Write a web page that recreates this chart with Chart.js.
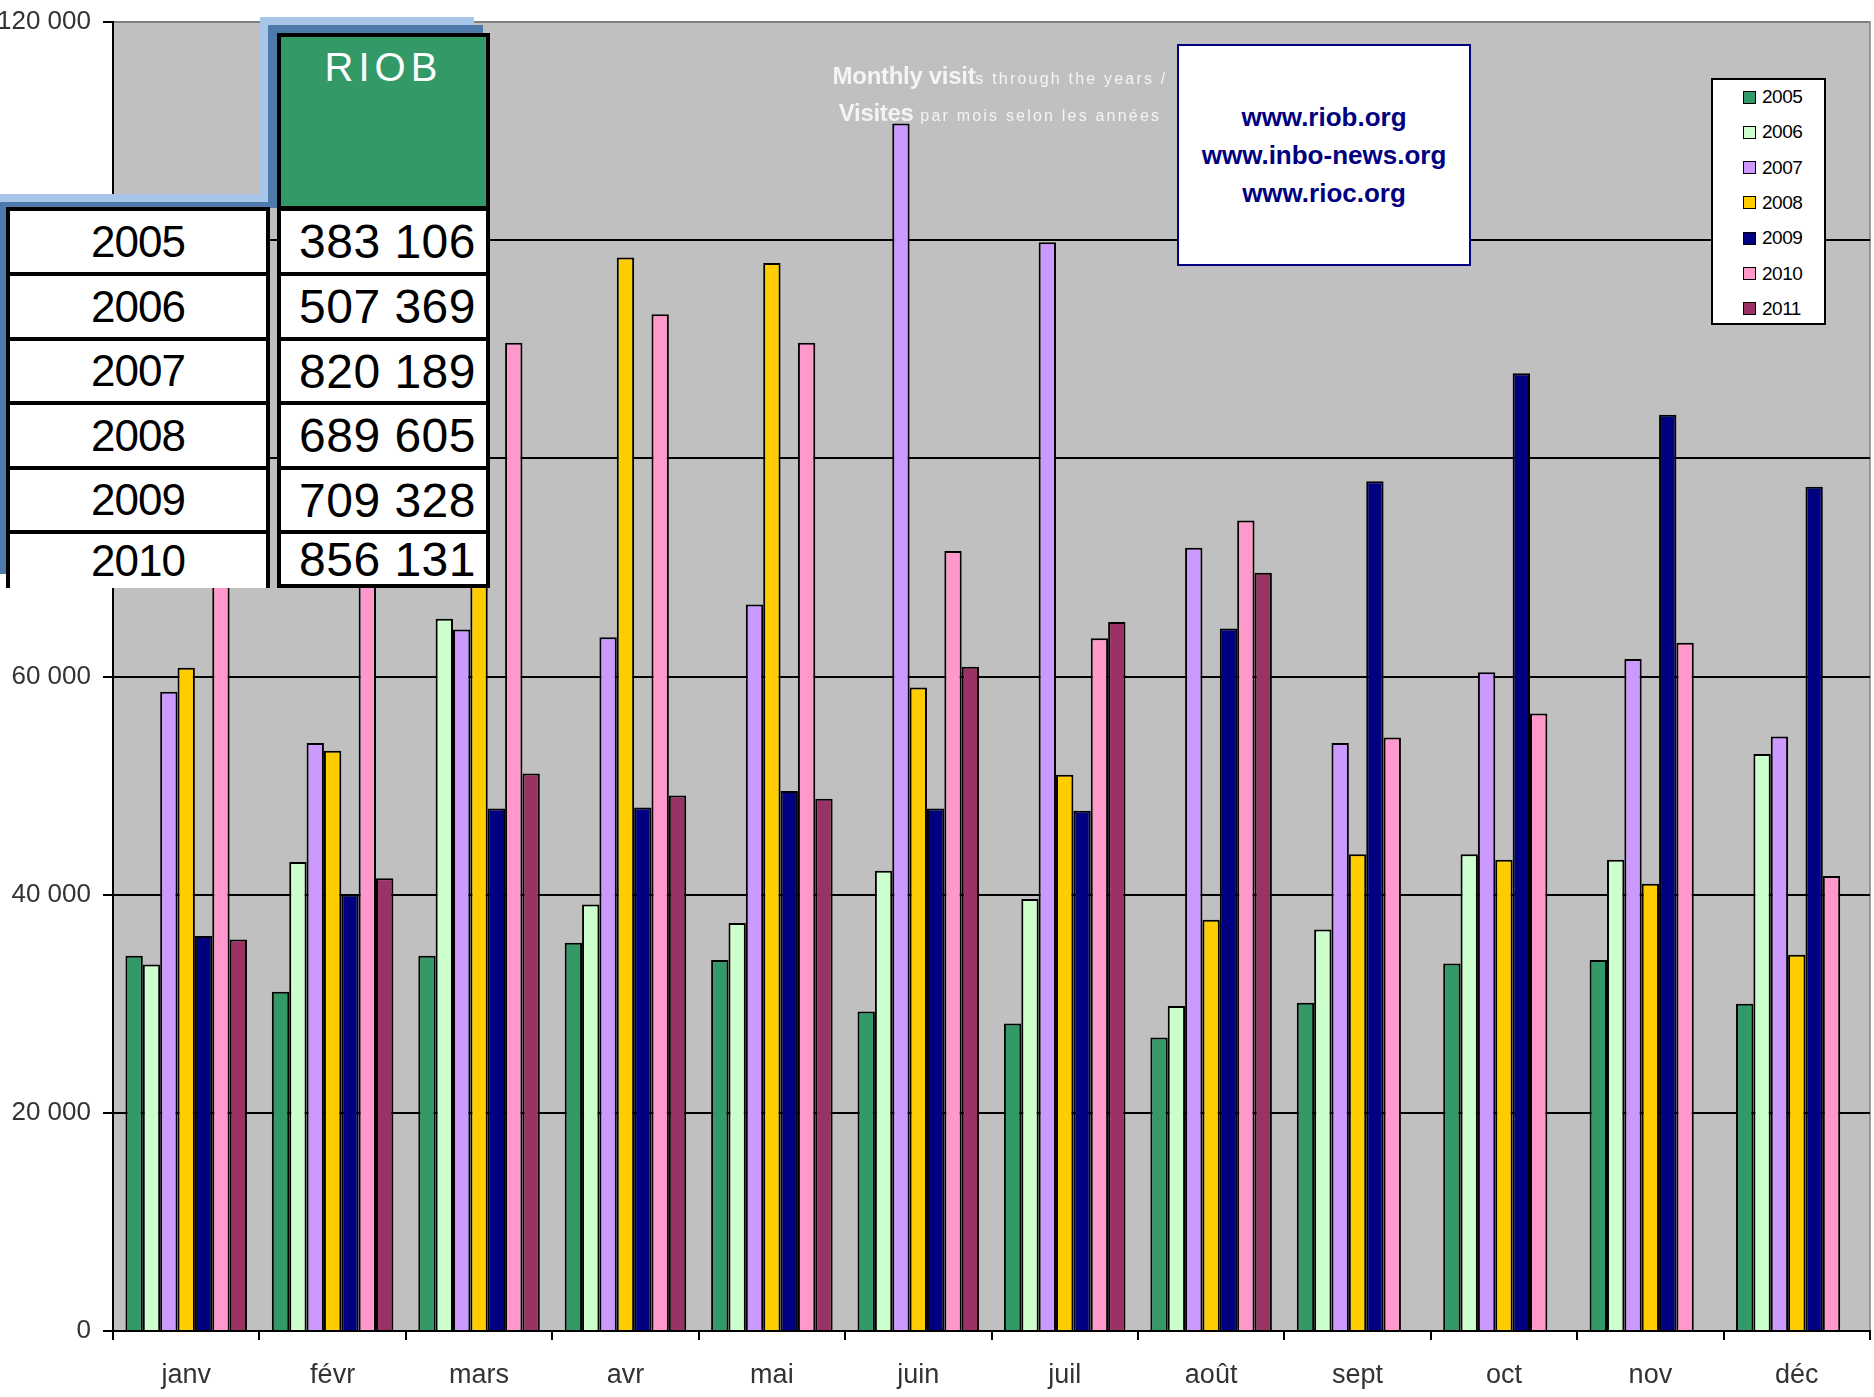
<!DOCTYPE html>
<html>
<head>
    <title>RIOB monthly visits</title>
    <script src="https://cdn.jsdelivr.net/npm/chart.js"></script>
    <style>
      body { margin: 0; background: #fff; }
      #wrap { position: relative; width: 1874px; height: 1397px; overflow: hidden; }
      .abs { position: absolute; box-sizing: border-box; }
      .cell { background: #fff; border: 4px solid #000; display: flex; align-items: center; justify-content: center; color: #000; font-family: 'Liberation Sans', sans-serif; }
      #title { color: #f4f4f4; font-family: 'Liberation Sans', sans-serif; text-align: center; line-height: 34px; }
      #title b { font-size: 24px; letter-spacing: -0.3px; }
      #title span { font-size: 16px; letter-spacing: 2.2px; }
      #urls { background: #fff; border: 2px solid #000080; color: #000080; font: bold 26px 'Liberation Sans', sans-serif; text-align: center; line-height: 38px; padding-top: 52px; }
      #legend { background: #fff; border: 2px solid #000; font: 19px 'Liberation Sans', sans-serif; color: #000; }
      .item { position: absolute; left: 30px; height: 22px; display: flex; align-items: center; letter-spacing: -0.5px; }
      .sw { width: 11px; height: 11px; border: 1.5px solid #000; margin-right: 6px; }
    </style>
</head>
<body>
<div id="wrap">
    <canvas id="visits" width="1874" height="1397"></canvas>

    <div id="title" class="abs" style="left:800px; top:59px; width:400px;">
      <b>Monthly visit</b><span>s through the years /</span><br>
      <b>Visites</b><span> par mois selon les années</span>
    </div>

    <div id="urls" class="abs" style="left:1177px; top:44px; width:294px; height:222px;">
      www.riob.org<br>www.inbo-news.org<br>www.rioc.org
    </div>

    <div id="legend" class="abs" style="left:1711px; top:78px; width:115px; height:247px;"></div>

    <div id="table"></div>
</div>

<script>
const months = ['janv', 'févr', 'mars', 'avr', 'mai', 'juin', 'juil', 'août', 'sept', 'oct', 'nov', 'déc'];
const years = ['2005', '2006', '2007', '2008', '2009', '2010', '2011'];
const colors = ['#339966', '#CCFFCC', '#CC99FF', '#FFCC00', '#000080', '#FF99CC', '#993366'];

const v2005 = [34400, 31100, 34400, 35600, 34000, 29300, 28200, 26900, 30100, 33700, 34000, 30000];
const v2006 = [33600, 43000, 65300, 39100, 37400, 42200, 39600, 29800, 36800, 43700, 43200, 52900];
const v2007 = [58600, 53900, 64300, 63600, 66600, 110700, 99800, 71800, 53900, 60400, 61600, 54500];
const v2008 = [60800, 53200, 69700, 98400, 97900, 59000, 51000, 37700, 43700, 43200, 41000, 34500];
const v2009 = [36200, 40000, 47900, 48000, 49500, 47900, 47700, 64400, 77900, 87800, 84000, 77400];
const v2010 = [78000, 79000, 90600, 93200, 90600, 71500, 63500, 74300, 54400, 56600, 63100, 41700];
const v2011 = [35900, 41500, 51100, 49100, 48800, 60900, 65000, 69500, null, null, null, null];
const series = [v2005, v2006, v2007, v2008, v2009, v2010, v2011];

// yearly totals shown in the RIOB table
const totalYears = ['2005', '2006', '2007', '2008', '2009', '2010'];
const totals = ['383 106', '507 369', '820 189', '689 605', '709 328', '856 131'];

const yTicks = [0, 20000, 40000, 60000, 80000, 100000, 120000];

const axisFont = "'Liberation Sans', Arial, sans-serif";
const fmt = v => String(v).replace(/\B(?=(\d{3})+(?!\d))/g, ' ');

const plotBack = {
  id: 'plotBack',
  beforeDraw(chart) {
    const { ctx, chartArea: a } = chart;
    ctx.save();
    ctx.fillStyle = '#C0C0C0';
    ctx.fillRect(a.left, a.top, a.right - a.left, a.bottom - a.top);
    ctx.strokeStyle = '#808080';
    ctx.lineWidth = 1.5;
    ctx.beginPath();
    ctx.moveTo(a.left, a.top);
    ctx.lineTo(a.right, a.top);
    ctx.lineTo(a.right, a.bottom);
    ctx.stroke();
    ctx.restore();
  }
};

new Chart(document.getElementById('visits'), {
  type: 'bar',
  data: {
    labels: months,
    datasets: years.map((y, i) => ({
      label: y,
      data: series[i],
      backgroundColor: colors[i],
      borderColor: '#000',
      borderWidth: 2,
      categoryPercentage: 0.83,
      barPercentage: 1.0
    }))
  },
  options: {
    responsive: false,
    animation: false,
    layout: { padding: { top: 22, right: 4, left: 0, bottom: 0 } },
    plugins: { legend: { display: false }, tooltip: { enabled: false } },
    scales: {
      x: {
        offset: true,
        grid: { offset: true, drawOnChartArea: false, color: '#000', lineWidth: 2, tickLength: 9 },
        border: { color: '#000', width: 2 },
        ticks: { color: '#333', font: { family: axisFont, size: 27 }, padding: 19 },
        afterFit(s) { s.height = 66; s.paddingLeft = 0; s.paddingRight = 0; }
      },
      y: {
        min: 0,
        max: 120000,
        afterBuildTicks(s) { s.ticks = yTicks.map(v => ({ value: v })); },
        grid: {
          color: c => (c.tick && c.tick.value === 120000) ? '#808080' : '#000',
          tickColor: '#000',
          lineWidth: 2,
          tickLength: 10
        },
        border: { color: '#000', width: 2 },
        ticks: { color: '#333', font: { family: axisFont, size: 26 }, padding: 12, callback: v => fmt(v) },
        afterFit(s) { s.width = 113; s.paddingTop = 0; s.paddingBottom = 0; }
      }
    }
  },
  plugins: [plotBack]
});

// legend box
const legend = document.getElementById('legend');
years.forEach((y, i) => {
  const it = document.createElement('div');
  it.className = 'item';
  it.style.top = (6 + i * 35.3) + 'px';
  it.innerHTML = '<div class="sw" style="background:' + colors[i] + '"></div>' + y;
  legend.appendChild(it);
});

// RIOB totals table
const tbl = document.getElementById('table');
function box(x, y, w, h, css, html) {
  const d = document.createElement('div');
  d.className = 'abs ' + (css || '');
  d.style.left = x + 'px'; d.style.top = y + 'px';
  d.style.width = w + 'px'; d.style.height = h + 'px';
  if (html) d.innerHTML = html;
  tbl.appendChild(d);
  return d;
}
box(260, 17, 214, 190).style.background = '#a8c6e8';
box(268, 25, 215, 183).style.background = '#4d7aab';
box(0, 194, 268, 10).style.background = '#a8c6e8';
box(0, 202, 268, 372).style.background = '#4d7aab';

const head = box(277, 33, 213, 177, '', 'RIOB');
head.style.cssText += 'background:#339966;border:4px solid #000;color:#fff;font:40px Liberation Sans, sans-serif;letter-spacing:5px;text-align:center;padding-top:8px;';

const rowTop = [207, 272, 337, 401, 466, 530, 584];
totalYears.forEach((y, i) => {
  const h = rowTop[i + 1] - rowTop[i] + 4;
  const l = box(6, rowTop[i], 264, h, 'cell', y);
  l.style.fontSize = '44px';
  l.style.letterSpacing = '-1px';
  if (i === totalYears.length - 1) l.style.borderBottom = 'none';
  const r = box(277, rowTop[i], 213, h, 'cell', totals[i]);
  r.style.fontSize = '48px';
  r.style.letterSpacing = '0.5px';
  r.style.paddingLeft = '8px';
});
</script>
</body>
</html>
